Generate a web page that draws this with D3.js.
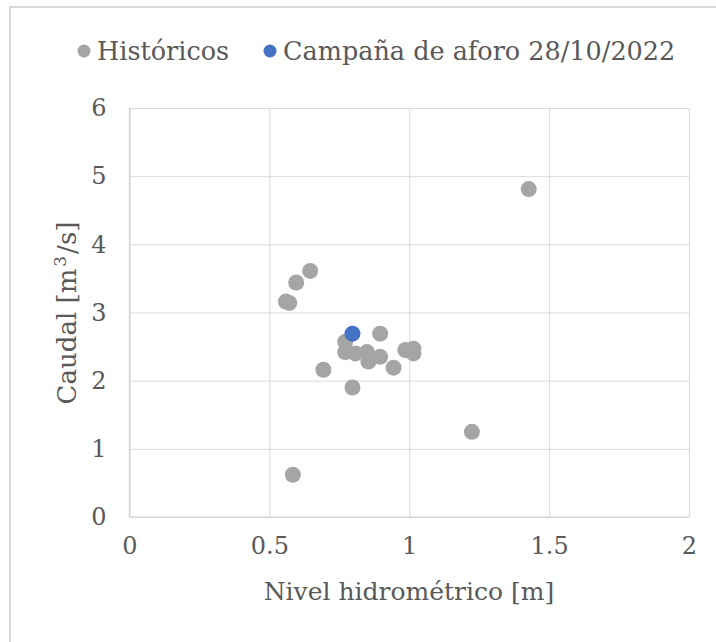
<!DOCTYPE html>
<html>
  <head>
    <meta charset="utf-8">
    <title>Caudal vs nivel</title>
    <script src="https://d3js.org/d3.v7.min.js"></script>
    <style>
      body { margin: 0; background: #fff; }
      text { font-family: "DejaVu Serif", serif; fill: #595959; }
    </style>
  </head>
  <body>
    <div id="chart"></div>
    <script>
      // datos
      var historicosX = [0.646, 0.596, 0.559, 0.571, 0.896, 0.771, 0.771, 0.807, 0.849, 0.896,
                         0.854, 0.944, 0.986, 1.015, 1.015, 0.693, 0.797, 0.584, 1.224, 1.427];
      var historicosY = [3.61, 3.44, 3.16, 3.14, 2.69, 2.57, 2.42, 2.40, 2.42, 2.35,
                         2.28, 2.19, 2.45, 2.47, 2.40, 2.16, 1.90, 0.62, 1.25, 4.81];
      var campanaX = [0.797];
      var campanaY = [2.69];
      var xTicks = [0, 0.5, 1, 1.5, 2];
      var yTicks = [0, 1, 2, 3, 4, 5, 6];
      var seriesNames = ["Históricos", "Campaña de aforo 28/10/2022"];

      var width = 716, height = 642;
      var plotLeft = 129.5, plotRight = 689, plotTop = 108, plotBottom = 517;

      var svg = d3.select("#chart").append("svg")
        .attr("width", width)
        .attr("height", height);

      // borde del grafico
      svg.append("rect")
        .attr("x", 10).attr("y", 7)
        .attr("width", width + 20).attr("height", height + 20)
        .attr("fill", "none")
        .attr("stroke", "#d9d9d9")
        .attr("stroke-width", 2);

      var x = d3.scaleLinear().domain([0, 2]).range([plotLeft, plotRight]);
      var y = d3.scaleLinear().domain([0, 6]).range([plotBottom, plotTop]);

      var xAxis = d3.axisBottom(x).tickValues(xTicks).tickSize(-(plotBottom - plotTop)).tickPadding(20)
        .tickFormat(function(d){ return d; });
      var yAxis = d3.axisLeft(y).tickValues(yTicks).tickSize(-(plotRight - plotLeft)).tickPadding(23)
        .tickFormat(function(d){ return d; });

      var gx = svg.append("g")
        .attr("transform", "translate(0," + plotBottom + ")")
        .call(xAxis);
      var gy = svg.append("g")
        .attr("transform", "translate(" + plotLeft + ",0)")
        .call(yAxis);

      [gx, gy].forEach(function(g){
        g.select(".domain").remove();
        g.selectAll(".tick line").attr("stroke", "#d9d9d9").attr("stroke-width", 1);
        g.selectAll(".tick text").attr("font-size", 24).attr("font-family", null).attr("fill", "#595959");
      });

      // lineas de eje
      svg.append("line")
        .attr("x1", plotLeft).attr("x2", plotRight).attr("y1", plotBottom).attr("y2", plotBottom)
        .attr("stroke", "#d0d0d0").attr("stroke-width", 1.2);
      svg.append("line")
        .attr("x1", plotLeft).attr("x2", plotLeft).attr("y1", plotTop).attr("y2", plotBottom)
        .attr("stroke", "#d0d0d0").attr("stroke-width", 1.2);

      // puntos
      svg.append("g").selectAll("circle")
        .data(historicosX)
        .join("circle")
        .attr("cx", function(d){ return x(d); })
        .attr("cy", function(d, i){ return y(historicosY[i]); })
        .attr("r", 8)
        .attr("fill", "#a5a5a5");

      svg.append("g").selectAll("circle")
        .data(campanaX)
        .join("circle")
        .attr("cx", function(d){ return x(d); })
        .attr("cy", function(d, i){ return y(campanaY[i]); })
        .attr("r", 8)
        .attr("fill", "#4472c4");

      // titulos de ejes
      svg.append("text")
        .attr("x", 409)
        .attr("y", 600)
        .attr("text-anchor", "middle")
        .attr("font-size", 25)
        .text("Nivel hidrométrico [m]");

      var yt = svg.append("text")
        .attr("transform", "translate(76,313) rotate(-90)")
        .attr("text-anchor", "middle")
        .attr("font-size", 26);
      yt.append("tspan").text("Caudal [m");
      yt.append("tspan").attr("dy", -10).attr("dx", 2).attr("font-size", 17).text("3");
      yt.append("tspan").attr("dy", 10).attr("dx", 2).text("/s]");

      // leyenda
      var legendColors = ["#a5a5a5", "#4472c4"];
      var legendX = [84, 270];
      var leg = svg.append("g");
      seriesNames.forEach(function(name, i){
        leg.append("circle")
          .attr("cx", legendX[i]).attr("cy", 51)
          .attr("r", 6.5)
          .attr("fill", legendColors[i]);
        leg.append("text")
          .attr("x", legendX[i] + 13).attr("y", 60)
          .attr("font-size", 25.5)
          .text(name);
      });
    </script>
  </body>
</html>
